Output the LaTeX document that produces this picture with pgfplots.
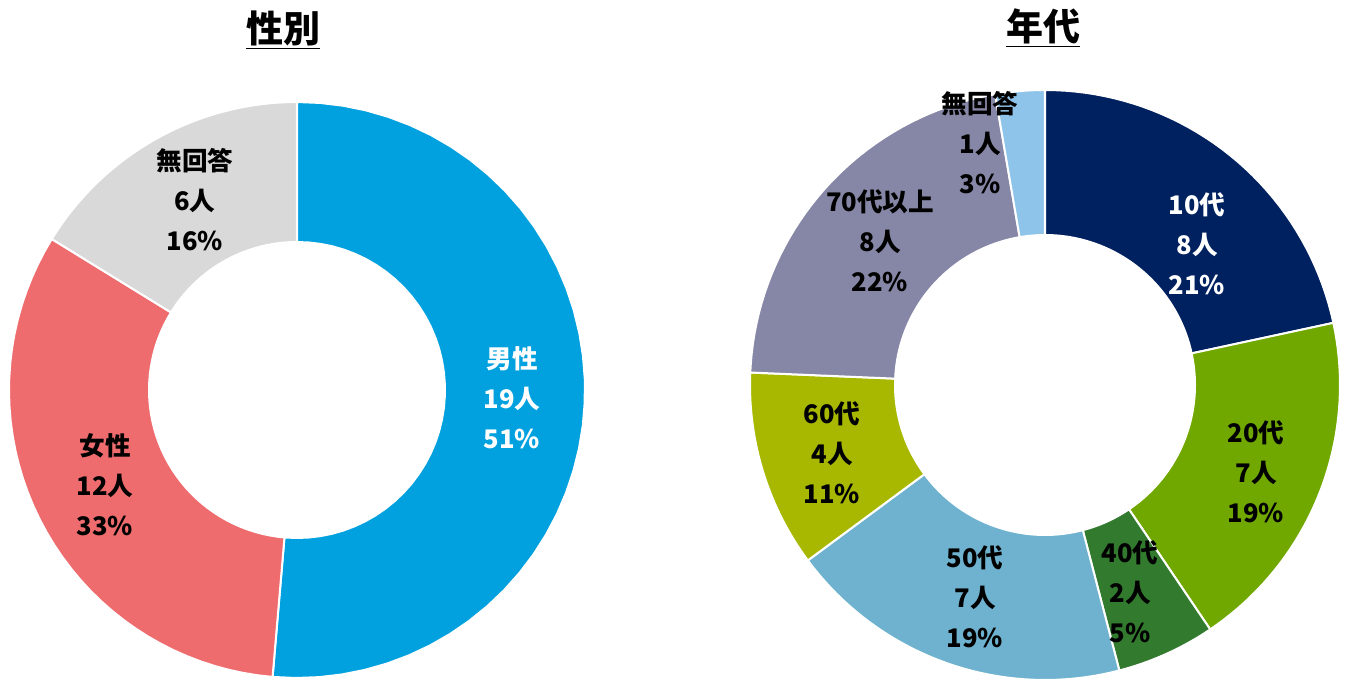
\documentclass[border=0pt]{standalone}
\usepackage{pgfplots}
\pgfplotsset{compat=1.18}
\usepackage{fontspec}
\setmainfont{Noto Sans CJK JP}
\definecolor{cMale}{RGB}{0,161,222}
\definecolor{cFemale}{RGB}{238,108,110}
\definecolor{cNA}{RGB}{217,217,217}
\definecolor{cTen}{RGB}{0,33,96}
\definecolor{cTwenty}{RGB}{112,168,0}
\definecolor{cForty}{RGB}{50,122,46}
\definecolor{cFifty}{RGB}{110,178,207}
\definecolor{cSixty}{RGB}{168,184,0}
\definecolor{cSeventy}{RGB}{134,135,166}
\definecolor{cNA2}{RGB}{142,196,234}
\tikzset{
  lbl/.style={align=center, inner sep=1pt, font={\fontsize{12.8pt}{20pt}\selectfont\bfseries}},
  ttl/.style={font={\fontsize{18.5pt}{20pt}\selectfont\bfseries}}
}
% #1 cx, #2 cy, #3 R, #4 r, #5 start count, #6 end count, #7 colour, #8 total
\newcommand{\slice}[8]{%
  \addplot[fill=#7, draw=white, line width=1pt, samples at={0,1,...,81}, variable=\t]
  ({#1 + (\t<=40 ? #3 : #4)*cos(90-360/#8*(\t<=40 ? #5+(#6-#5)*\t/40 : #5+(#6-#5)*(81-\t)/40))},
   {#2 + (\t<=40 ? #3 : #4)*sin(90-360/#8*(\t<=40 ? #5+(#6-#5)*\t/40 : #5+(#6-#5)*(81-\t)/40))}) -- cycle;
}
\begin{document}
\begin{tikzpicture}
\useasboundingbox (0,0) rectangle (675pt,340.5pt);
\begin{axis}[
  width=675pt, height=340.5pt, scale only axis,
  xmin=0, xmax=1350, ymin=0, ymax=681,
  hide axis, clip=false
]
% 性別: 男性 19, 女性 12, 無回答 6 (total 37)
\slice{297}{291}{288}{148}{0}{19}{cMale}{37}
\slice{297}{291}{288}{148}{19}{31}{cFemale}{37}
\slice{297}{291}{288}{148}{31}{37}{cNA}{37}
% 年代: 10代 8, 20代 7, 40代 2, 50代 7, 60代 4, 70代以上 8, 無回答 1 (total 37)
\slice{1045}{296}{295}{150}{0}{8}{cTen}{37}
\slice{1045}{296}{295}{150}{8}{15}{cTwenty}{37}
\slice{1045}{296}{295}{150}{15}{17}{cForty}{37}
\slice{1045}{296}{295}{150}{17}{24}{cFifty}{37}
\slice{1045}{296}{295}{150}{24}{28}{cSixty}{37}
\slice{1045}{296}{295}{150}{28}{36}{cSeventy}{37}
\slice{1045}{296}{295}{150}{36}{37}{cNA2}{37}

\node[ttl] at (axis cs:283,651) {\underline{性別}};
\node[ttl] at (axis cs:1043,653) {\underline{年代}};

\node[lbl, text=white] at (axis cs:512,283) {男性\\19人\\51\%};
\node[lbl] at (axis cs:105,196) {女性\\12人\\33\%};
\node[lbl] at (axis cs:195,481) {無回答\\6人\\16\%};

\node[lbl, text=white] at (axis cs:1197,437) {10代\\8人\\21\%};
\node[lbl] at (axis cs:1256,209) {20代\\7人\\19\%};
\node[lbl] at (axis cs:1130,89) {40代\\2人\\5\%};
\node[lbl] at (axis cs:975,84) {50代\\7人\\19\%};
\node[lbl] at (axis cs:832,228) {60代\\4人\\11\%};
\node[lbl] at (axis cs:880,440) {70代以上\\8人\\22\%};
\node[lbl] at (axis cs:980,538) {無回答\\1人\\3\%};
\end{axis}
\end{tikzpicture}
\end{document}
